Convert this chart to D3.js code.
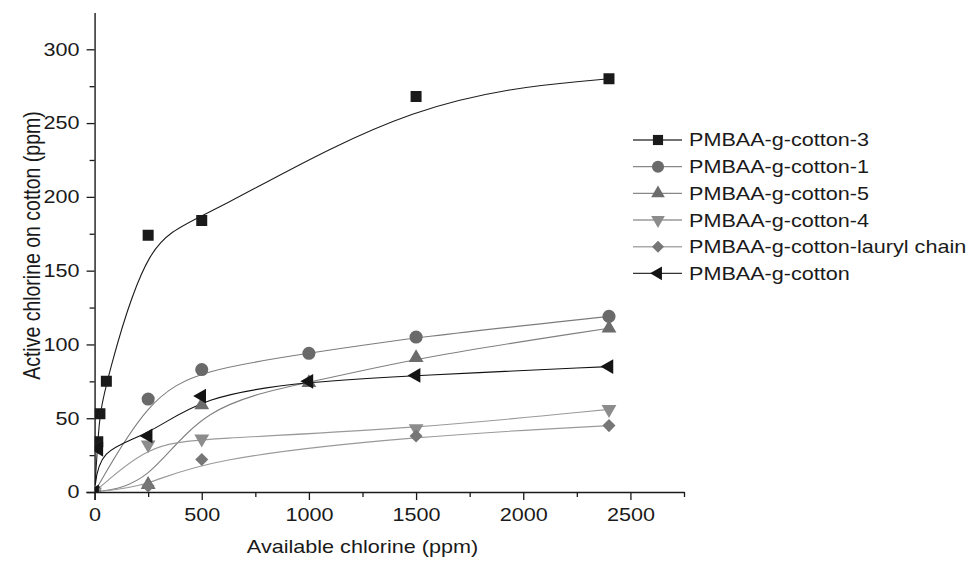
<!DOCTYPE html>
<html>
<head>
<meta charset="utf-8">
<script src="https://cdn.jsdelivr.net/npm/d3@7"></script>
<style>
  body { margin: 0; background: #fff; }
  svg { display: block; }
  text { font-family: "Liberation Sans", Arial, sans-serif; fill: #1a1a1a; }
</style>
</head>
<body>
<svg id="chart" width="971" height="562"></svg>
<script>
// ---------- data ----------
const seriesNames = ["PMBAA-g-cotton-3", "PMBAA-g-cotton-1", "PMBAA-g-cotton-5",
                     "PMBAA-g-cotton-4", "PMBAA-g-cotton-lauryl chain", "PMBAA-g-cotton"];
const cotton3X = [0, 15, 25, 55, 250, 500, 1500, 2400];
const cotton3Y = [0, 34, 53, 75, 174, 184, 268, 280];
const cotton1X = [0, 250, 500, 1000, 1500, 2400];
const cotton1Y = [0, 63, 83, 94, 105, 119];
const cotton5X = [0, 250, 500, 1000, 1500, 2400];
const cotton5Y = [0, 5, 59, 74, 91, 111];
const cotton4X = [0, 250, 500, 1500, 2400];
const cotton4Y = [0, 32, 36, 43, 56];
const laurylX = [0, 250, 500, 1500, 2400];
const laurylY = [0, 4, 22, 38, 45];
const cottonX = [0, 20, 250, 500, 1000, 1500, 2400];
const cottonY = [0, 29, 38, 65, 75, 79, 85];
const xMajorTicks = [0, 500, 1000, 1500, 2000, 2500];
const xMinorTicks = [250, 750, 1250, 1750, 2250, 2750];
const yMajorTicks = [0, 50, 100, 150, 200, 250, 300];
const yMinorTicks = [25, 75, 125, 175, 225, 275];
const xTitle = "Available chlorine (ppm)";
const yTitle = "Active chlorine on cotton (ppm)";

// ---------- styling ----------
const SX = 1.2;           // horizontal stretch of the reference glyphs
const FS = 18;
const styles = [
  { line: "#1e1e1e", legendLine: "#444", fill: "#1a1a1a", symbol: d3.symbolSquare, size: 121, rot: 0 },
  { line: "#7c7c7c", legendLine: "#888", fill: "#6a6a6a", symbol: d3.symbolCircle, size: 135, rot: 0 },
  { line: "#808080", legendLine: "#888", fill: "#6c6c6c", symbol: d3.symbolTriangle, size: 95, rot: 0 },
  { line: "#9a9a9a", legendLine: "#9a9a9a", fill: "#8c8c8c", symbol: d3.symbolTriangle, size: 95, rot: 180 },
  { line: "#9a9a9a", legendLine: "#aaa", fill: "#767676", symbol: d3.symbolSquare, size: 85, rot: 45 },
  { line: "#111", legendLine: "#333", fill: "#141414", symbol: d3.symbolTriangle, size: 95, rot: -90 }
];
const seriesX = [cotton3X, cotton1X, cotton5X, cotton4X, laurylX, cottonX];
const seriesY = [cotton3Y, cotton1Y, cotton5Y, cotton4Y, laurylY, cottonY];

// ---------- scales ----------
const x = d3.scaleLinear().domain([-40, 2750]).range([86, 684]);
const y = d3.scaleLinear().domain([-5, 325]).range([499.4, 12.4]);

const svg = d3.select("#chart");

svg.append("defs").append("clipPath").attr("id", "plotclip")
  .append("rect").attr("x", x(0)).attr("y", y(325))
  .attr("width", x(2750) - x(0)).attr("height", y(0) - y(325));

// ---------- axes ----------
const gx = svg.append("g").attr("transform", `translate(0,${y(0)})`);
gx.call(d3.axisBottom(x).tickValues(xMajorTicks).tickFormat(d3.format("d"))
  .tickSize(8).tickPadding(8).tickSizeOuter(0));
gx.append("g").call(d3.axisBottom(x).tickValues(xMinorTicks).tickSize(5).tickFormat("").tickSizeOuter(0))
  .select(".domain").remove();
const gy = svg.append("g").attr("transform", `translate(${x(0)},0)`);
gy.call(d3.axisLeft(y).tickValues(yMajorTicks).tickFormat(d3.format("d"))
  .tickSize(8).tickPadding(7).tickSizeOuter(0));
gy.append("g").call(d3.axisLeft(y).tickValues(yMinorTicks).tickSize(5).tickFormat("").tickSizeOuter(0))
  .select(".domain").remove();

svg.selectAll(".domain").attr("stroke", "#1a1a1a").attr("stroke-width", 1.4);
svg.selectAll(".tick line").attr("stroke", "#1a1a1a").attr("stroke-width", 1.3);
gx.selectAll(".tick text").attr("font-size", FS).attr("font-family", null)
  .attr("transform", `scale(${SX},1)`).attr("fill", "#1a1a1a");
gy.selectAll(".tick text").attr("font-size", FS).attr("font-family", null)
  .attr("x", -15 / SX).attr("transform", `scale(${SX},1)`).attr("fill", "#1a1a1a");

// axis titles
svg.append("text")
  .attr("transform", `translate(${(x(0) + x(2500)) / 2},553) scale(${SX},1)`)
  .attr("text-anchor", "middle").attr("font-size", FS).text(xTitle);
svg.append("text")
  .attr("transform", `translate(40,${y(167)}) scale(${SX},1) rotate(-90)`)
  .attr("text-anchor", "middle").attr("font-size", 19.5).text(yTitle);

// ---------- series ----------
const lineGen = d3.line().curve(d3.curveBasis).x(d => x(d[0])).y(d => y(d[1]));
const plot = svg.append("g").attr("clip-path", "url(#plotclip)");
seriesNames.forEach((name, i) => {
  const pts = seriesX[i].map((v, k) => [v, seriesY[i][k]]);
  const st = styles[i];
  plot.append("path").datum(pts)
    .attr("d", lineGen).attr("fill", "none")
    .attr("stroke", st.line).attr("stroke-width", 1.1);
});
seriesNames.forEach((name, i) => {
  const pts = seriesX[i].map((v, k) => [v, seriesY[i][k]]);
  const st = styles[i];
  const sym = d3.symbol().type(st.symbol).size(st.size);
  plot.selectAll(null).data(pts).enter().append("path")
    .attr("d", sym)
    .attr("transform", d => `translate(${x(d[0])},${y(d[1])}) rotate(${st.rot})`)
    .attr("fill", st.fill);
});

// ---------- legend ----------
const lg = svg.append("g");
seriesNames.forEach((name, i) => {
  const st = styles[i];
  const ry = 140 + i * 26.67;
  lg.append("line").attr("x1", 633).attr("x2", 682).attr("y1", ry).attr("y2", ry)
    .attr("stroke", st.legendLine).attr("stroke-width", 1.4);
  lg.append("path").attr("d", d3.symbol().type(st.symbol).size(st.size * 0.85))
    .attr("transform", `translate(658,${ry}) rotate(${st.rot})`).attr("fill", st.fill);
  lg.append("text").attr("transform", `translate(689,${ry}) scale(${SX},1)`)
    .attr("dy", "0.36em").attr("font-size", FS).text(name);
});
</script>
</body>
</html>
